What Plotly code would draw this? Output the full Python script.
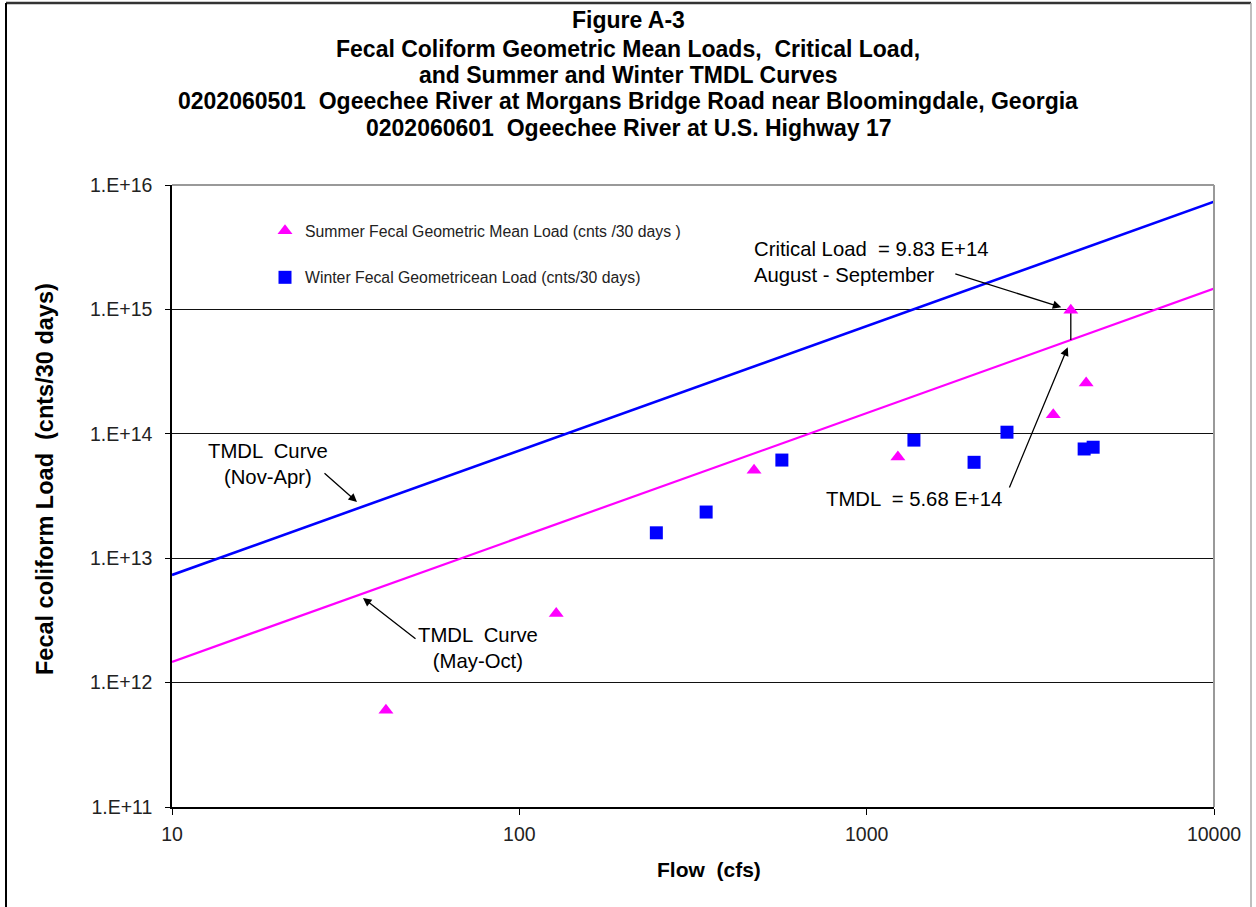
import math
import plotly.graph_objects as go

# ---------------- data ----------------
summer_flow = [41.3, 127.7, 474, 1230, 3445, 4285, 3870]
summer_load = [6.0e11, 3.6e12, 5.1e13, 6.5e13, 1.42e14, 2.56e14, 9.83e14]

winter_flow = [248, 345, 570, 1368, 2038, 2535, 4228, 4488]
winter_load = [1.6e13, 2.35e13, 6.15e13, 8.9e13, 5.9e13, 1.03e14, 7.55e13, 7.8e13]

curve_flow = [10, 10000]
winter_curve = [7.34e12, 7.34e15]
summer_curve = [1.468e12, 1.468e15]

crit_flow = 3870
crit_load = 9.83e14
tmdl_load = 5.68e14

y_tickvals = [1e11, 1e12, 1e13, 1e14, 1e15, 1e16]
y_ticktext = ["1.E+11", "1.E+12", "1.E+13", "1.E+14", "1.E+15", "1.E+16"]
x_tickvals = [10, 100, 1000, 10000]
x_ticktext = ["10", "100", "1000", "10000"]

title_lines = [
    "Figure A-3",
    "Fecal Coliform Geometric Mean Loads,  Critical Load,",
    "and Summer and Winter TMDL Curves",
    "0202060501  Ogeechee River at Morgans Bridge Road near Bloomingdale, Georgia",
    "0202060601  Ogeechee River at U.S. Highway 17",
]

# ---------------- layout geometry ----------------
W, H = 1256, 907
L, R, T, B = 172, 42, 185, 100
PW, PH = W - L - R, H - T - B
FONT = "Liberation Sans, Arial, sans-serif"


def px(xp):
    return (xp - L) / PW


def py(yp):
    return (H - B - yp) / PH


fig = go.Figure()

fig.add_trace(go.Scatter(x=curve_flow, y=winter_curve, mode="lines",
                         line=dict(color="#0000FF", width=2.6), showlegend=False,
                         hoverinfo="skip"))
fig.add_trace(go.Scatter(x=curve_flow, y=summer_curve, mode="lines",
                         line=dict(color="#FF00FF", width=2.2), showlegend=False,
                         hoverinfo="skip"))
fig.add_trace(go.Scatter(x=[crit_flow, crit_flow], y=[crit_load, tmdl_load], mode="lines",
                         line=dict(color="black", width=1.3), showlegend=False,
                         hoverinfo="skip"))
fig.add_trace(go.Scatter(x=summer_flow, y=summer_load, mode="markers",
                         name="Summer Fecal Geometric Mean Load (cnts /30 days )",
                         legendgroup="s",
                         marker=dict(symbol="triangle-up", size=13, color="#FF00FF",
                                     line=dict(width=0))))
fig.add_trace(go.Scatter(x=winter_flow, y=winter_load, mode="markers",
                         name="Winter Fecal Geometricean Load (cnts/30 days)",
                         legendgroup="w",
                         marker=dict(symbol="square", size=13, color="#0000FF",
                                     line=dict(width=0))))

annotations = []
title_y = [20, 49, 75, 101, 128]
for txt, yp in zip(title_lines, title_y):
    annotations.append(dict(text="<b>" + txt + "</b>", xref="paper", yref="paper",
                            x=px(628), y=py(yp), xanchor="center", yanchor="middle",
                            showarrow=False, font=dict(family=FONT, size=23, color="black")))

# axis titles
annotations.append(dict(text="<b>Flow  (cfs)</b>", xref="paper", yref="paper",
                        x=px(709), y=py(869), xanchor="center", yanchor="middle",
                        showarrow=False, font=dict(family=FONT, size=21, color="black")))
annotations.append(dict(text="<b>Fecal coliform Load  (cnts/30 days)</b>", xref="paper",
                        yref="paper", x=px(45), y=py(479), xanchor="center",
                        yanchor="middle", textangle=-90, showarrow=False,
                        font=dict(family=FONT, size=23.5, color="black")))

ann_font = dict(family=FONT, size=20.3, color="black")
lx = lambda xp: 1 + (xp - L) / (PW / 3)
ly = lambda yp: 16 - (yp - T) / (PH / 5)

# text labels
annotations.append(dict(text="Critical Load  = 9.83 E+14<br>August - September",
                        x=lx(752), y=ly(262), xanchor="left", yanchor="middle",
                        align="left", showarrow=False, font=ann_font))
annotations.append(dict(text="TMDL  = 5.68 E+14", x=lx(824), y=ly(499), xanchor="left",
                        yanchor="middle", showarrow=False, font=ann_font))
annotations.append(dict(text="TMDL  Curve<br>(Nov-Apr)", x=lx(268), y=ly(464),
                        xanchor="center", yanchor="middle", align="center",
                        showarrow=False, font=ann_font))
annotations.append(dict(text="TMDL  Curve<br>(May-Oct)", x=lx(478), y=ly(648),
                        xanchor="center", yanchor="middle", align="center",
                        showarrow=False, font=ann_font))

# arrows
arrow_style = dict(text="", showarrow=True, arrowhead=2, arrowsize=1.3, arrowwidth=1.3,
                   arrowcolor="black")
annotations.append(dict(x=math.log10(crit_flow), y=math.log10(crit_load), ax=-117, ay=-37,
                        standoff=10, **arrow_style))
annotations.append(dict(x=math.log10(crit_flow), y=math.log10(tmdl_load), ax=-62, ay=149,
                        standoff=8, **arrow_style))
annotations.append(dict(x=lx(357), y=ly(502), ax=323 - 357, ay=472 - 502, **arrow_style))
annotations.append(dict(x=lx(363), y=ly(598), ax=417 - 363, ay=640 - 598, **arrow_style))

shapes = [
    # gray top and right plot border
    dict(type="line", xref="paper", yref="paper", x0=0, x1=1, y0=1, y1=1,
         line=dict(color="#999999", width=2), layer="above"),
    dict(type="line", xref="paper", yref="paper", x0=1, x1=1, y0=0, y1=1,
         line=dict(color="#999999", width=2), layer="above"),
    # outer frame
    dict(type="line", xref="paper", yref="paper", x0=px(6), x1=px(1251), y0=py(3), y1=py(3),
         line=dict(color="#333333", width=2.5)),
    dict(type="line", xref="paper", yref="paper", x0=px(6), x1=px(6), y0=py(3), y1=py(915),
         line=dict(color="black", width=2)),
    dict(type="line", xref="paper", yref="paper", x0=px(1251), x1=px(1251), y0=py(3),
         y1=py(915), line=dict(color="#aaaaaa", width=1.5)),
]

fig.update_layout(
    width=W, height=H, autosize=False,
    margin=dict(l=L, r=R, t=T, b=B, pad=0),
    paper_bgcolor="white", plot_bgcolor="white",
    font=dict(family=FONT, color="black"),
    annotations=annotations, shapes=shapes,
    showlegend=True,
    legend=dict(x=px(265), y=py(214), xanchor="left", yanchor="top",
                bgcolor="rgba(0,0,0,0)", tracegroupgap=23,
                font=dict(family=FONT, size=15.8, color="#222222"),
                itemwidth=30),
    xaxis=dict(type="log", range=[1, 4], tickvals=x_tickvals, ticktext=x_ticktext,
               showgrid=False, showline=True, linecolor="black", linewidth=1.5,
               ticks="outside", ticklen=6, tickcolor="black", tickwidth=1.3,
               tickfont=dict(family=FONT, size=19.5, color="#222222"),
               ticklabelstandoff=3, zeroline=False),
    yaxis=dict(type="log", range=[11, 16], tickvals=y_tickvals, ticktext=y_ticktext,
               showgrid=True, gridcolor="#111111", gridwidth=1.2,
               showline=True, linecolor="black", linewidth=1.5,
               ticks="outside", ticklen=5, tickcolor="black", tickwidth=1.3,
               tickfont=dict(family=FONT, size=19.5, color="#222222"),
               ticklabelstandoff=9, zeroline=False),
)

fig.write_html("out.html", config={"displayModeBar": False},
               post_script="document.body.style.margin='0';")
